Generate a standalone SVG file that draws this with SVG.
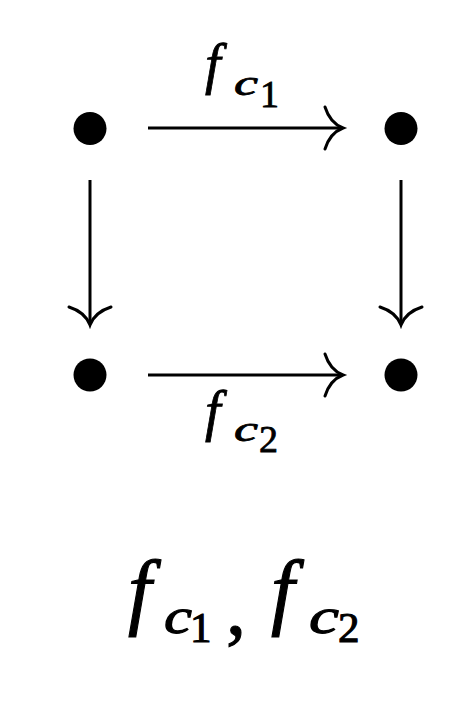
<svg xmlns="http://www.w3.org/2000/svg" width="474" height="705" viewBox="0 0 474 705">
<style>
.ln{stroke:#000;stroke-width:3;fill:none}
.hd{stroke:#000;stroke-width:3;fill:none;stroke-linecap:round}
.lbl{font-family:'Liberation Serif',serif;fill:#000;stroke:#000;stroke-width:0.8}
.cap{font-family:'Liberation Serif',serif;fill:#000;stroke:#000;stroke-width:1.1}
.it{font-style:italic}
</style>
<defs>
<path id="head" class="hd" d="M -18 -21 Q -13 -5 0 0 Q -13 5 -18 21"/>
</defs>
<rect width="474" height="705" fill="#fff"/>
<g id="n1"><circle cx="90" cy="128.5" r="16.5"/></g>
<g id="n2"><circle cx="401" cy="128.5" r="16.5"/></g>
<g id="n3"><circle cx="90" cy="375" r="16.5"/></g>
<g id="n4"><circle cx="401" cy="375" r="16.5"/></g>
<g id="connectors">
<line class="ln" x1="148" y1="128" x2="342" y2="128"/>
<use href="#head" transform="translate(343,128)"/>
<line class="ln" x1="148" y1="375" x2="342" y2="375"/>
<use href="#head" transform="translate(343,375)"/>
<line class="ln" x1="90" y1="180" x2="90" y2="324"/>
<use href="#head" transform="translate(90,325) rotate(90)"/>
<line class="ln" x1="401" y1="180" x2="401" y2="324"/>
<use href="#head" transform="translate(401,325) rotate(90)"/>
<text class="lbl"><tspan class="it" x="205" y="83" font-size="56">f</tspan><tspan class="it" x="234" y="95" font-size="36" textLength="24" lengthAdjust="spacingAndGlyphs">c</tspan><tspan x="260" y="107" font-size="38">1</tspan></text>
<text class="lbl"><tspan class="it" x="205" y="430" font-size="56">f</tspan><tspan class="it" x="234" y="441" font-size="36" textLength="24" lengthAdjust="spacingAndGlyphs">c</tspan><tspan x="259" y="452" font-size="38">2</tspan></text>
</g>
<g id="caption">
<text class="cap"><tspan class="it" x="128" y="619" font-size="84">f</tspan><tspan class="it" x="164" y="633" font-size="51" textLength="28" lengthAdjust="spacingAndGlyphs">c</tspan><tspan x="190" y="642" font-size="43">1</tspan><tspan x="226" y="634" font-size="80">,</tspan><tspan class="it" x="271" y="619" font-size="84">f</tspan><tspan class="it" x="309" y="633" font-size="51" textLength="30" lengthAdjust="spacingAndGlyphs">c</tspan><tspan x="338" y="642" font-size="43">2</tspan></text>
</g>
</svg>
